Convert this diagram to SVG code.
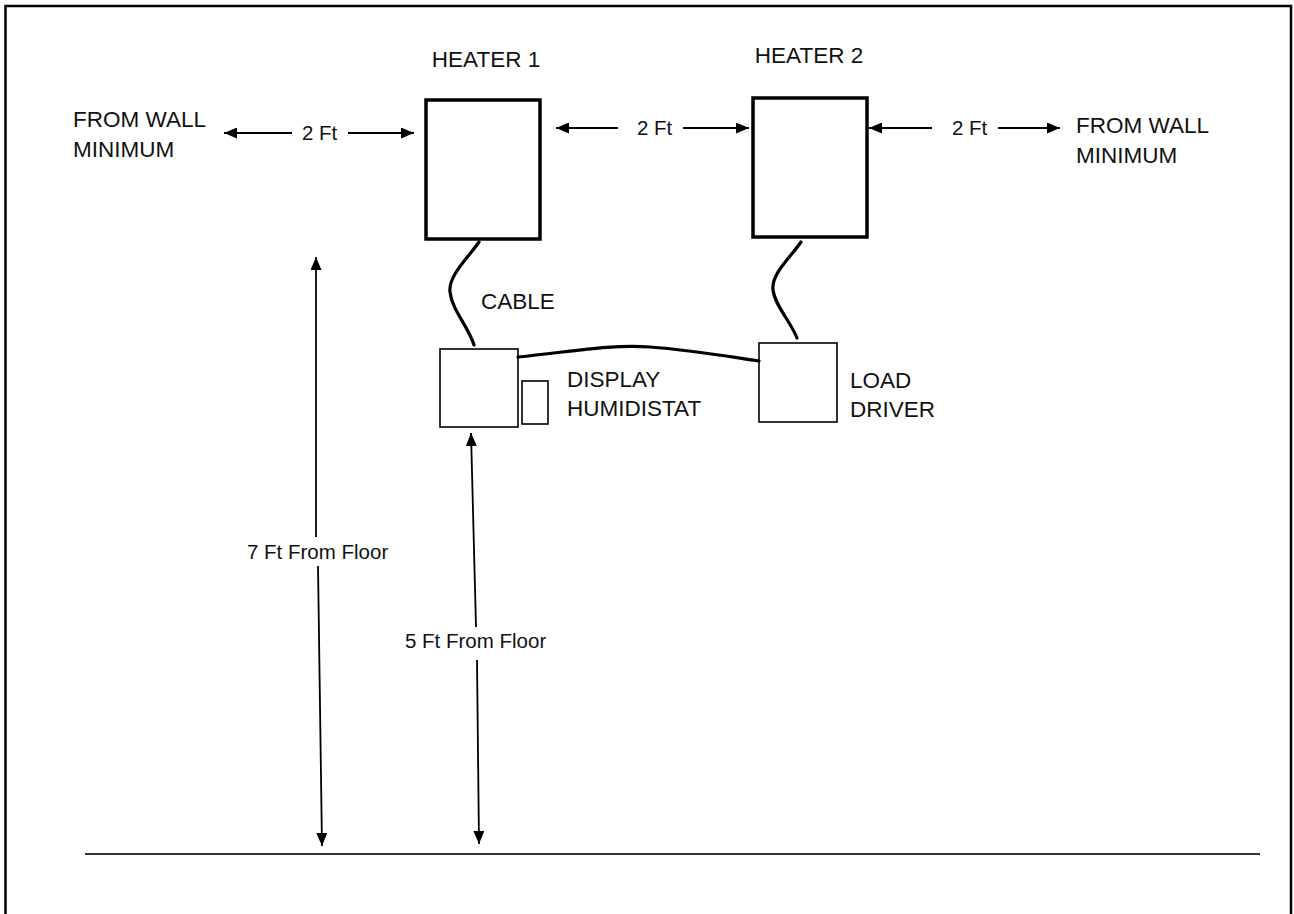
<svg xmlns="http://www.w3.org/2000/svg" width="1294" height="914" viewBox="0 0 1294 914">
<style>
  .cap { font-family: "Liberation Sans", Arial, sans-serif; font-size: 22.5px; fill: #111; }
  .lbl { font-family: "Liberation Sans", Arial, sans-serif; font-size: 20.5px; fill: #111; }
  .heater { fill: #fff; stroke: #000; stroke-width: 3.5; }
  .box { fill: #fff; stroke: #000; stroke-width: 1.6; }
  .cable { fill: none; stroke: #000; stroke-width: 3.2; stroke-linecap: round; }
  .dim { fill: none; stroke: #000; stroke-width: 1.8; }
</style>
<defs>
  <marker id="ah" viewBox="0 0 13 11" refX="13" refY="5.5" markerWidth="13" markerHeight="11" markerUnits="userSpaceOnUse" orient="auto-start-reverse">
    <path d="M0,0 L13,5.5 L0,11 z" fill="#000"/>
  </marker>
</defs>
<rect x="0" y="0" width="1294" height="914" fill="#fff"/>
<path d="M5.5,914 L5.5,6 L1291,6 L1291,914" fill="none" stroke="#000" stroke-width="2.5"/>

<g id="heater1">
  <rect class="heater" x="426" y="100" width="114" height="139"/>
  <text class="cap" x="486" y="67" text-anchor="middle">HEATER 1</text>
</g>
<g id="heater2">
  <rect class="heater" x="753" y="98" width="114" height="139"/>
  <text class="cap" x="809" y="63" text-anchor="middle">HEATER 2</text>
</g>
<g id="display">
  <rect class="box" x="440" y="349" width="78" height="78"/>
  <rect class="box" x="522" y="381" width="26" height="43"/>
  <text class="cap" x="567" y="387">DISPLAY</text>
  <text class="cap" x="567" y="416">HUMIDISTAT</text>
</g>
<g id="loaddriver">
  <rect class="box" x="759" y="343" width="78" height="79"/>
  <text class="cap" x="850" y="388">LOAD</text>
  <text class="cap" x="850" y="417">DRIVER</text>
</g>
<g id="wall-left">
  <text class="cap" x="73" y="127">FROM WALL</text>
  <text class="cap" x="73" y="157">MINIMUM</text>
</g>
<g id="wall-right">
  <text class="cap" x="1076" y="133">FROM WALL</text>
  <text class="cap" x="1076" y="163">MINIMUM</text>
</g>
<g id="floor">
  <line x1="85" y1="854" x2="1260" y2="854" stroke="#333" stroke-width="1.8"/>
</g>

<g id="connectors">
  <path class="cable" d="M479,242 C468,258 448,276 450,292 C452,310 468,326 474,345"/>
  <path class="cable" d="M801,242 C790,258 771,274 773,290 C775,306 791,322 797,338"/>
  <path class="cable" d="M518,357 C570,352 610,344 650,347 C690,350 725,356 759,361"/>
  <text class="cap" x="481" y="309">CABLE</text>

  <line class="dim" x1="292" y1="133" x2="224" y2="133" marker-end="url(#ah)"/>
  <text class="lbl" x="302" y="140">2 Ft</text>
  <line class="dim" x1="348" y1="133" x2="414" y2="133" marker-end="url(#ah)"/>

  <line class="dim" x1="618" y1="128" x2="556" y2="128" marker-end="url(#ah)"/>
  <text class="lbl" x="637" y="135">2 Ft</text>
  <line class="dim" x1="683" y1="128" x2="749" y2="128" marker-end="url(#ah)"/>

  <line class="dim" x1="932" y1="128" x2="869" y2="128" marker-end="url(#ah)"/>
  <text class="lbl" x="952" y="135">2 Ft</text>
  <line class="dim" x1="998" y1="128" x2="1060" y2="128" marker-end="url(#ah)"/>

  <line class="dim" x1="316" y1="537" x2="316" y2="257" marker-end="url(#ah)"/>
  <line class="dim" x1="318" y1="566" x2="322" y2="846" marker-end="url(#ah)"/>
  <text class="lbl" x="247" y="559">7 Ft From Floor</text>

  <line class="dim" x1="476" y1="627" x2="471" y2="433" marker-end="url(#ah)"/>
  <line class="dim" x1="477" y1="660" x2="479" y2="844" marker-end="url(#ah)"/>
  <text class="lbl" x="405" y="648">5 Ft From Floor</text>
</g>
</svg>
